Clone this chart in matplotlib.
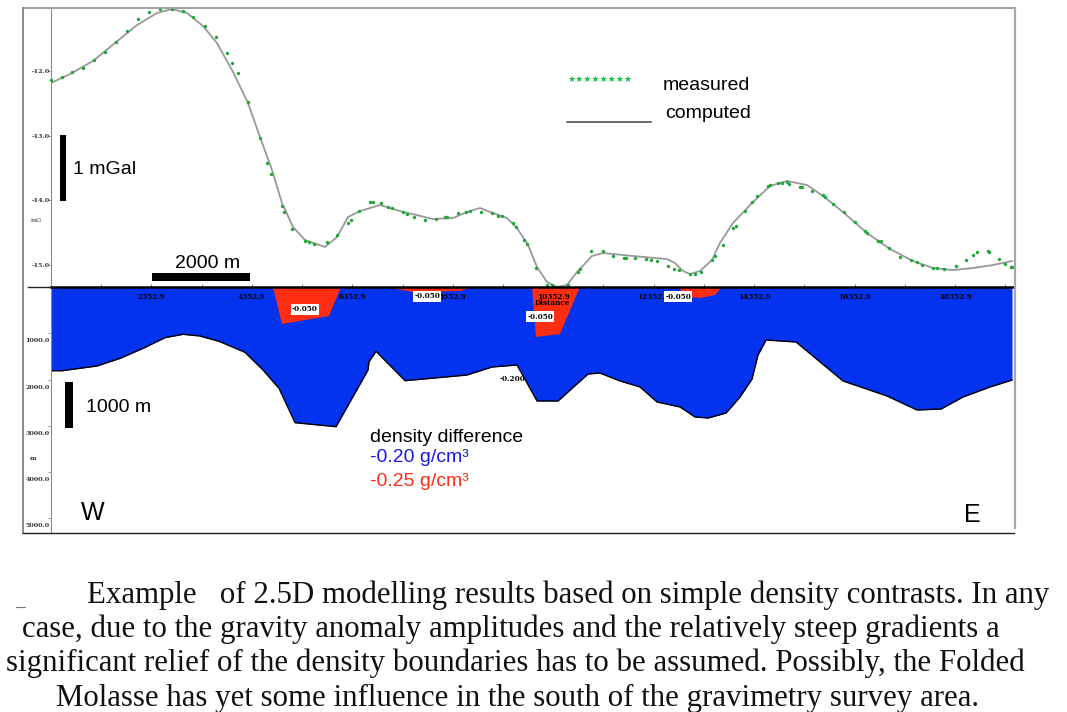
#!/usr/bin/env python3
# 2.5D gravity model: anomaly profile on top, density bodies below
import matplotlib
matplotlib.use("Agg")
import matplotlib.pyplot as plt
from matplotlib.lines import Line2D
from matplotlib.patches import Rectangle
from matplotlib.transforms import ScaledTranslation

W, H = 1067, 712

measured_x = [353, 565, 778, 997, 1216, 1428, 1640, 1873, 2092, 2311, 2523, 2756, 2988, 3187, 3419, 3632,
              3851, 3957, 4070, 4282, 4514, 4660, 4727, 4946, 4986, 5158, 5410, 5490, 5596, 5842, 6041, 6260,
              6326, 6485, 6704, 6771, 6923, 7069, 7136, 7355, 7434, 7580, 7799, 8018, 8198, 8244, 8463, 8609,
              8695, 8908, 9127, 9259, 9339, 9558, 9605, 9777, 9824, 10009, 10222, 10321, 10434, 10653, 10852,
              10886, 11105, 11337, 11536, 11762, 11801, 11981, 12200, 12293, 12412, 12644, 12764, 12863, 13076,
              13175, 13294, 13520, 13573, 13739, 13938, 13984, 14170, 14316, 14402, 14621, 14668, 14820, 14900,
              15000, 15046, 15265, 15312, 15497, 15716, 15763, 15929, 16148, 16367, 16559, 16606, 16825, 16871,
              17031, 17256, 17468, 17588, 17694, 17907, 18000, 18132, 18365, 18570, 18703, 18783, 19001, 19035,
              19228, 19354, 19460, 19493]
measured_mgal = [-12.145, -12.088, -12.021, -11.949, -11.830, -11.707, -11.557, -11.387, -11.202, -11.088,
                 -11.047, -11.037, -11.073, -11.161, -11.305, -11.475, -11.717, -11.882, -12.026, -12.485,
                 -13.031, -13.422, -13.587, -14.092, -14.175, -14.442, -14.623, -14.643, -14.679, -14.638,
                 -14.540, -14.355, -14.303, -14.159, -14.019, -14.019, -14.045, -14.102, -14.117, -14.184,
                 -14.215, -14.256, -14.298, -14.287, -14.256, -14.256, -14.200, -14.174, -14.159, -14.174,
                 -14.189, -14.236, -14.236, -14.344, -14.416, -14.617, -14.679, -15.040, -15.302, -15.307,
                 -15.333, -15.302, -15.101, -15.060, -14.782, -14.787, -14.854, -14.885, -14.885, -14.895,
                 -14.906, -14.916, -14.931, -15.014, -15.055, -15.081, -15.137, -15.137, -15.101, -14.921,
                 -14.854, -14.689, -14.432, -14.396, -14.159, -14.019, -13.927, -13.777, -13.762, -13.736,
                 -13.726, -13.721, -13.741, -13.788, -13.798, -13.849, -13.922, -13.942, -14.050, -14.184,
                 -14.339, -14.473, -14.509, -14.622, -14.633, -14.741, -14.880, -14.926, -14.947, -14.998,
                 -15.045, -15.050, -15.065, -15.014, -14.921, -14.849, -14.803, -14.787, -14.803, -14.906,
                 -14.978, -15.024, -15.034]

computed_x = [353, 771, 1189, 1627, 2065, 2463, 2762, 3061, 3379, 3658, 3977, 4275, 4514, 4753, 4952, 5171,
              5410, 5808, 6047, 6266, 6505, 6903, 7301, 7958, 8357, 8635, 8894, 9153, 9432, 9631, 9850, 10029,
              10228, 10427, 10626, 10825, 11124, 11343, 11940, 12617, 12777, 12936, 13075, 13274, 13513, 13672,
              13931, 14329, 14668, 15006, 15405, 15723, 16121, 16599, 17057, 17515, 17913, 18311, 18709, 19107,
              19486]
computed_mgal = [-12.185, -12.031, -11.845, -11.567, -11.289, -11.104, -11.042, -11.104, -11.304, -11.567,
                 -12.015, -12.495, -13.020, -13.530, -14.040, -14.411, -14.612, -14.720, -14.566, -14.257,
                 -14.164, -14.071, -14.164, -14.287, -14.272, -14.179, -14.117, -14.195, -14.272, -14.427,
                 -14.689, -15.029, -15.261, -15.338, -15.307, -15.107, -14.859, -14.813, -14.859, -14.906,
                 -14.968, -15.091, -15.138, -15.091, -14.921, -14.658, -14.349, -14.025, -13.777, -13.700,
                 -13.762, -13.932, -14.179, -14.504, -14.751, -14.937, -15.045, -15.076, -15.045, -14.998,
                 -14.937]

body_x = [353, 572, 1269, 1727, 2185, 2623, 2981, 3319, 3717, 4215, 4574, 4892, 5211, 6027, 6664, 6684, 6824,
          7401, 8635, 9133, 9631, 10029, 10447, 11045, 11283, 11682, 12080, 12419, 12877, 13174, 13434, 13792,
          14071, 14310, 14429, 14589, 15186, 16122, 16997, 17595, 18073, 18511, 19048, 19486]
body_depth = [1808, 1808, 1706, 1541, 1325, 1094, 1022, 1058, 1181, 1411, 1793, 2189, 2931, 3017, 1793, 1613,
              1390, 2024, 1901, 1728, 1685, 2462, 2462, 1879, 1858, 2030, 2160, 2484, 2592, 2808, 2830, 2722,
              2376, 1987, 1469, 1145, 1188, 2030, 2354, 2657, 2635, 2376, 2160, 2009]

red1_x = [4773, 6127, 5888, 4952]
red1_depth = [0, 0, 626, 799]
red2_x = [7043, 7560, 8496, 8755]
red2_depth = [0, 110, 86, 0]
red3_x = [9930, 10885, 10487, 10009]
red3_depth = [0, 0, 1015, 1080]
red4_x = [12816, 13712, 13572, 13274, 13075]
red4_depth = [0, 0, 173, 238, 216]

gravity_ticks = [-12, -13, -14, -15]
depth_ticks = [1000, 2000, 3000, 4000, 5000]
distance_ticks = [2352.9, 4352.9, 6352.9, 8352.9, 10352.9, 12352.9, 14352.9, 16352.9, 18352.9]
distance_minor = [1352.9, 3352.9, 5352.9, 7352.9, 9352.9, 11352.9, 13352.9, 15352.9, 17352.9, 19352.9]

caption = [
    (87, 595.5, "Example   of 2.5D modelling results based on simple density contrasts. In any"),
    (22, 629.5, "case, due to the gravity anomaly amplitudes and the relatively steep gradients a"),
    (6, 663.5, "significant relief of the density boundaries has to be assumed. Possibly, the Folded"),
    (56, 698.5, "Molasse has yet some influence in the south of the gravimetry survey area."),
]

BLUE = "#0433f0"
RED = "#ff2d12"
GREEN = "#1fa83a"
TICK_FONT = dict(family="DejaVu Serif", fontsize=5.2, fontweight="bold", color="black")
SIDE_FONT = dict(family="DejaVu Serif", fontsize=4.6, fontweight="bold", color="#333333")


def fx(px):
    return px / W


def fy(py):
    return 1 - py / H


def axes_px(fig, left, top, right, bottom):
    return fig.add_axes([fx(left), fy(bottom), (right - left) / W, (bottom - top) / H])


def fig_text(fig, px, py, s, **kw):
    kw.setdefault("family", "Liberation Sans")
    kw.setdefault("va", "center")
    fig.text(fx(px), fy(py), s, **kw)


def fig_line(fig, x0, y0, x1, y1, color="#a0a0a0", lw=1.4):
    fig.add_artist(Line2D([fx(x0), fx(x1)], [fy(y0), fy(y1)], color=color, lw=lw))


def fig_bar(fig, x0, y0, x1, y1):
    fig.add_artist(Rectangle((fx(x0), fy(y1)), (x1 - x0) / W, (y1 - y0) / H, color="black", lw=0))


fig = plt.figure(figsize=(W / 100, H / 100), dpi=100, facecolor="white")

# gravity panel
ax_g = axes_px(fig, 51, 8, 1013, 287)
ax_g.set_xlim(352.9, 19506)
ax_g.set_ylim(-15.338, -11.026)
ax_g.plot(computed_x, computed_mgal, color="#999999", lw=1.3, zorder=2)
ax_g.scatter(measured_x, measured_mgal, s=6, marker="o", color=GREEN, lw=0, zorder=3, clip_on=False)
ax_g.set_xticks([])
ax_g.set_yticks(gravity_ticks, ["%.1f" % v for v in gravity_ticks], **SIDE_FONT)
ax_g.tick_params(axis="y", length=2, width=0.5, color="#777777", pad=-1)
for side in ["top", "right", "bottom"]:
    ax_g.spines[side].set_visible(False)
ax_g.spines["left"].set_color("#8a8a8a")
ax_g.patch.set_alpha(0)

# density model panel
ax_d = axes_px(fig, 51, 287, 1013, 533)
ax_d.set_xlim(352.9, 19506)
ax_d.set_ylim(5314, 0)
ax_d.fill_between(body_x, 0, body_depth, color=BLUE, lw=0, zorder=1)
ax_d.plot(body_x, body_depth, color="black", lw=1.0, zorder=1.5)
for xs, ds in [(red1_x, red1_depth), (red2_x, red2_depth), (red3_x, red3_depth), (red4_x, red4_depth)]:
    ax_d.fill(xs, ds, color=RED, lw=0, zorder=1.2)
ax_d.set_xticks(distance_ticks, ["%.1f" % v for v in distance_ticks], **TICK_FONT)
ax_d.set_xticks(distance_minor, minor=True)
ax_d.tick_params(axis="x", which="both", top=True, bottom=False, labeltop=True, labelbottom=False,
                 length=2, width=0.5, color="#555555", pad=-12)
ax_d.set_yticks(depth_ticks, ["%.1f" % v for v in depth_ticks], **SIDE_FONT)
ax_d.tick_params(axis="y", length=2, width=0.5, color="#777777", pad=-1)
shift = ScaledTranslation(0, -5 / 72, fig.dpi_scale_trans)
for lab in ax_d.get_yticklabels():
    lab.set_transform(lab.get_transform() + shift)
for side in ["right", "bottom"]:
    ax_d.spines[side].set_visible(False)
ax_d.spines["left"].set_color("#8a8a8a")
ax_d.spines["top"].set_linewidth(1.8)
ax_d.patch.set_alpha(0)

# values on the bodies
box = dict(facecolor="white", edgecolor="none", pad=1.0)
for x, d in [(5410, 480), (7840, 200), (10090, 640), (12840, 210)]:
    ax_d.text(x, d, "-0.050", ha="center", va="center", bbox=box, zorder=4, **TICK_FONT)
ax_d.text(9540, 1990, "-0.200", ha="center", va="center", zorder=4, **TICK_FONT)
ax_d.text(10330, 340, "Distance", ha="center", va="center", zorder=4, **TICK_FONT)

# frame round the figure
fig_line(fig, 23, 8, 1014, 8)
fig_line(fig, 23, 8, 23, 533, color="#8a8a8a")
fig_line(fig, 1014.5, 8, 1014.5, 528, color="#a8a8a8", lw=1.6)
fig_line(fig, 23, 533, 1014, 533, color="#222222", lw=1.0)
fig_line(fig, 28, 286.5, 51, 286.5, color="#222222", lw=1.0)
fig_line(fig, 16, 607, 25, 607, color="#777777", lw=0.8)

fig_text(fig, 36, 221, "mG", family="DejaVu Serif", fontsize=4.6, ha="center", color="#333333")
fig_text(fig, 33, 459, "m", family="DejaVu Serif", fontsize=4.6, ha="center", fontweight="bold", color="#333333")

# scale bars
fig_bar(fig, 60, 135, 66, 201)
fig_text(fig, 73, 170, "1 mGal", fontsize=14)
fig_bar(fig, 152, 273, 250, 281)
fig_text(fig, 175, 264, "2000 m", fontsize=14)
fig_bar(fig, 65, 382, 73, 428)
fig_text(fig, 86, 408, "1000 m", fontsize=14)

# legend
fig_text(fig, 567, 79, "\u2605" * 8, family="DejaVu Sans", fontsize=6.6, color="#1fc24a")
fig_text(fig, 663, 85, "measured", fontsize=14)
fig_line(fig, 567, 122, 651, 122, color="#444444", lw=1.1)
fig_text(fig, 665, 113, "computed", fontsize=14)

fig_text(fig, 370, 438, "density difference", fontsize=14)
fig_text(fig, 370, 458, "-0.20 g/cm\u00b3", fontsize=14, color="#1a1ae0")
fig_text(fig, 370, 481, "-0.25 g/cm\u00b3", fontsize=14, color=RED)
fig_text(fig, 81, 513, "W", fontsize=18)
fig_text(fig, 964, 515, "E", fontsize=18)

for px, py, line in caption:
    fig_text(fig, px, py, line, family="Liberation Serif", fontsize=22.2, color="#111111")

fig.savefig("out.png", dpi=100)
plt.close(fig)
print("[PLOT] Saved: out.png")
